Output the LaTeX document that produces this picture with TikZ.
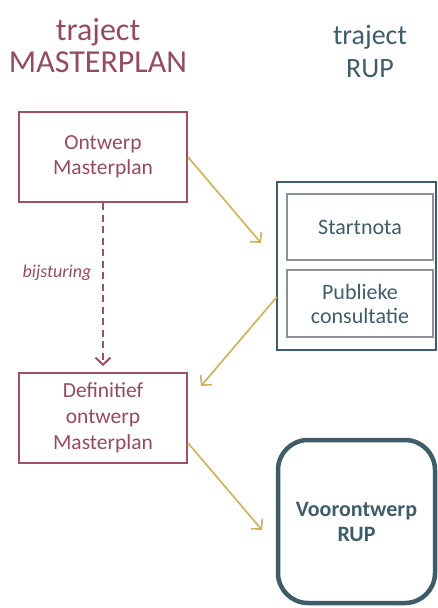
\documentclass[tikz,border=0pt]{standalone}
\usepackage{fontspec}
\setmainfont{Carlito}
\usetikzlibrary{arrows.meta,calc}

\definecolor{mpred}{HTML}{9C5166}
\definecolor{mptext}{HTML}{944A5F}
\definecolor{rupteal}{HTML}{3F5D69}
\definecolor{innergrey}{HTML}{8C9396}
\definecolor{flowgold}{HTML}{CDB560}

\tikzset{
  title/.style={align=center, font=\fontsize{32}{32}\selectfont},
  mpbox/.style={draw=mpred, line width=2pt, minimum width=168pt, minimum height=90pt,
    align=center, text=mptext, inner sep=0pt, font=\fontsize{21.5}{25.5}\selectfont},
  rupouter/.style={draw=rupteal, line width=2.4pt, minimum width=159pt, minimum height=168pt, inner sep=0pt},
  rupinner/.style={draw=innergrey, line width=1.5pt, minimum width=146pt, minimum height=66pt,
    align=center, text=rupteal, inner sep=0pt, font=\fontsize{22}{24}\selectfont},
  rupfinal/.style={draw=rupteal, line width=4.5pt, rounded corners=30pt, minimum width=157pt,
    minimum height=163pt, align=center, text=rupteal, inner sep=0pt,
    font=\bfseries\fontsize{22}{25}\selectfont},
  flow/.style={draw=flowgold, line width=1.7pt, -{Straight Barb[length=7pt,width=15pt,line width=1.7pt]}},
  revise/.style={draw=mpred, line width=2pt, dash pattern=on 7pt off 4.5pt,
    -{Straight Barb[length=7pt,width=15pt,line width=2pt]}}
}

\begin{document}
\begin{tikzpicture}[x=1pt,y=-1pt]
\useasboundingbox (0,0) rectangle (438,608);

% column headings
\node[title, text=mptext] (tmp) at (98,46) {traject\\MASTERPLAN};
\node[title, text=rupteal, font=\fontsize{28}{33}\selectfont] (trup) at (370,51) {traject\\RUP};

% masterplan track
\node[mpbox] (ontwerp) at (103,157) {Ontwerp\\Masterplan};
\node[mpbox, font=\fontsize{21.5}{26}\selectfont] (definitief) at (103,418) {Definitief\\ontwerp\\Masterplan};

% RUP track
\node[rupouter] (rup) at (356.5,266) {};
\node[rupinner] (startnota) at (360,227) {Startnota};
\node[rupinner, minimum height=67pt] (consult) at (360,303.5) {Publieke\\consultatie};
\node[rupfinal] (voorontwerp) at (356.5,521.5) {Voorontwerp\\RUP};

% free arrow ends
\coordinate (toRup) at (261,243);
\coordinate (toDef) at (201,386);
\coordinate (toVoor) at (262,530);

% connectors
\draw[revise] (ontwerp.south) -- ($(definitief.north)+(0,-6)$) coordinate (revEnd);
\node[text=mptext, font=\itshape\fontsize{18}{20}\selectfont] (bij) at (57,273) {bijsturing};

\draw[flow] (ontwerp.east) -- (toRup);
\draw[flow] ($(rup.west)+(1,31)$) -- (toDef);
\draw[flow] ($(definitief.east)+(0,25)$) -- (toVoor);
\end{tikzpicture}
\end{document}
